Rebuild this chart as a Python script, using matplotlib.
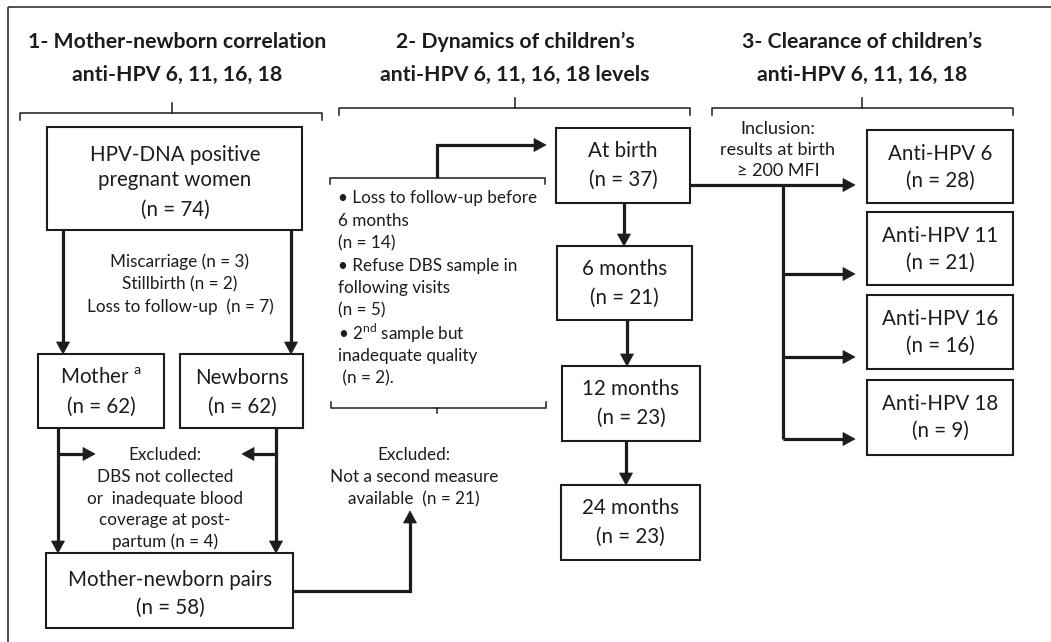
import matplotlib
matplotlib.use("Agg")
import matplotlib.pyplot as plt
from matplotlib.patches import Rectangle, Polygon

# ---------------- data ----------------
section_titles = [
    ["1- Mother-newborn correlation", "anti-HPV 6, 11, 16, 18"],
    ["2- Dynamics of children\u2019s", "anti-HPV 6, 11, 16, 18 levels"],
    ["3- Clearance of children\u2019s", "anti-HPV 6, 11, 16, 18"],
]
cohort_labels = ["HPV-DNA positive\npregnant women", "Mother $^{\\mathrm{a}}$", "Newborns", "Mother-newborn pairs"]
cohort_n = [74, 62, 62, 58]
pregnancy_loss_labels = ["Miscarriage", "Stillbirth", "Loss to follow-up "]
pregnancy_loss_n = [3, 2, 7]
postpartum_excluded_n = 4
visit_labels = ["At birth", "6 months", "12 months", "24 months"]
visit_n = [37, 21, 23, 23]
dropout_n = [14, 5, 2]
no_second_measure_n = 21
clearance_labels = ["Anti-HPV 6", "Anti-HPV 11", "Anti-HPV 16", "Anti-HPV 18"]
clearance_n = [28, 21, 16, 9]
inclusion_mfi = 200

# ---------------- style ----------------
FONT = ["Lato", "DejaVu Sans"]
plt.rcParams["font.family"] = FONT
plt.rcParams["mathtext.fontset"] = "custom"
plt.rcParams["mathtext.rm"] = "Lato"
TXT = "#1c1c1c"
LN = "#1c1c1c"
BOX_LW = 1.5
ARR_LW = 2.3
BR_LW = 1.1
BIG = 14.8
SMALL = 12.3
TITLE = 15.3

fig = plt.figure(figsize=(10.51, 6.42), dpi=100)
ax = fig.add_axes([0, 0, 1, 1])
ax.set_xlim(0, 1051)
ax.set_ylim(642, 0)
ax.axis("off")


def box(x0, y0, x1, y1):
    ax.add_patch(Rectangle((x0, y0), x1 - x0, y1 - y0, fill=False,
                           lw=BOX_LW, ec=LN, zorder=2))


def text(x, y, s, size=BIG, ha="center", weight="normal"):
    ax.text(x, y, s, fontsize=size, ha=ha, va="center", color=TXT,
            fontweight=weight, family=FONT)


def line(xs, ys, lw=ARR_LW):
    ax.plot(xs, ys, color=LN, lw=lw, solid_capstyle="butt",
            solid_joinstyle="miter", zorder=3)


def arrow(xs, ys, hl=12, hw=6.5):
    x1, y1 = xs[-1], ys[-1]
    x0, y0 = xs[-2], ys[-2]
    dx, dy = x1 - x0, y1 - y0
    d = (dx * dx + dy * dy) ** 0.5
    ux, uy = dx / d, dy / d
    bx, by = x1 - ux * hl, y1 - uy * hl
    line(list(xs[:-1]) + [bx + ux], list(ys[:-1]) + [by + uy])
    px, py = -uy, ux
    ax.add_patch(Polygon([(x1, y1), (bx + px * hw, by + py * hw),
                          (bx - px * hw, by - py * hw)], closed=True,
                         fc=LN, ec=LN, lw=0.5, zorder=4))


def bracket(x0, x1, y, cx, up=True, end=7, mid=10):
    s = -1 if up else 1
    ax.plot([x0, x0, x1, x1], [y - s * end, y, y, y - s * end],
            color=LN, lw=BR_LW, zorder=3)
    if mid:
        ax.plot([cx, cx], [y, y + s * mid], color=LN, lw=BR_LW, zorder=3)


# outer frame (runs past the right and bottom edges)
ax.add_patch(Rectangle((8, 7), 1100, 700, fill=False, lw=1.2, ec="#333333"))

# section titles and braces
title_x = [177, 515, 862]
for tx, (t1, t2) in zip(title_x, section_titles):
    text(tx, 42, t1, size=TITLE, weight="bold")
    text(tx, 75, t2, size=TITLE, weight="bold")
bracket(20, 322, 113, 172)
bracket(339, 690, 108, 515)
bracket(712, 1013, 108, 862)

# ---------- section 1 ----------
box(47, 127, 302, 230)
l0 = cohort_labels[0].split("\n")
text(175, 155, l0[0])
text(175, 180, l0[1])
text(175, 210, f"(n = {cohort_n[0]})")

arrow([63, 63], [230, 354])
arrow([291, 291], [230, 354])
for i, (lab, n) in enumerate(zip(pregnancy_loss_labels, pregnancy_loss_n)):
    text(180, 262 + 22.5 * i, f"{lab} (n = {n})", size=SMALL)

box(38, 354, 164, 428)
text(101, 378, cohort_labels[1])
text(101, 407, f"(n = {cohort_n[1]})")
box(180, 354, 303, 428)
text(242, 378, cohort_labels[2])
text(242, 407, f"(n = {cohort_n[2]})")

arrow([58, 58], [428, 553])
arrow([276, 276], [428, 553])
arrow([58, 95], [454, 454])
arrow([276, 242], [454, 454])
excl_lines = ["Excluded:", "DBS not collected", "or  inadequate blood",
              "coverage at post-", f"partum (n = {postpartum_excluded_n})"]
for i, s in enumerate(excl_lines):
    text(165, 455 + 21.8 * i, s, size=SMALL)

box(46, 553, 293, 628)
text(170, 580, cohort_labels[3])
text(170, 608, f"(n = {cohort_n[3]})")

arrow([293, 410, 410], [591, 591, 511])
for i, s in enumerate(["Excluded:", "Not a second measure",
                       f"available  (n = {no_second_measure_n})"]):
    text(414, 455 + 22 * i, s, size=SMALL)

# ---------- section 2 ----------
bracket(330, 545, 178, 437, up=True, end=6, mid=0)
arrow([437, 437, 546], [178, 145, 145])
bullets = [
    "\u2022 Loss to follow-up before", "6 months", f"(n = {dropout_n[0]})",
    "\u2022 Refuse DBS sample in", "following visits", f"(n = {dropout_n[1]})",
    "\u2022 2$^{\\mathrm{nd}}$ sample but", "inadequate quality", f" (n = {dropout_n[2]})."
]
for i, s in enumerate(bullets):
    text(338, 198 + 22.5 * i, s, size=SMALL, ha="left")
bracket(331, 546, 408, 437, up=False, end=6, mid=5)

visit_boxes = [(556, 128, 690, 203), (557, 246, 692, 320),
               (562, 366, 700, 441), (561, 485, 700, 560)]
for (x0, y0, x1, y1), lab, n in zip(visit_boxes, visit_labels, visit_n):
    box(x0, y0, x1, y1)
    cx = (x0 + x1) / 2
    text(cx, y0 + 23, lab)
    text(cx, y0 + 52, f"(n = {n})")
arrow([624, 624], [203, 246])
arrow([627, 627], [320, 366])
arrow([626, 626], [441, 485])

# ---------- section 3 ----------
for i, s in enumerate(["Inclusion:", "results at birth",
                       f"\u2265 {inclusion_mfi} MFI"]):
    text(778, 129 + 21 * i, s, size=13.0)
arrow([690, 855], [185, 185])
line([783, 783], [185, 439])
clear_boxes = [(867, 130, 1013, 203), (867, 212, 1013, 285),
               (867, 295, 1013, 369), (867, 380, 1013, 455)]
for (x0, y0, x1, y1), lab, n in zip(clear_boxes, clearance_labels, clearance_n):
    box(x0, y0, x1, y1)
    cx = (x0 + x1) / 2
    text(cx, y0 + 24, lab)
    text(cx, y0 + 51, f"(n = {n})")
for yy in [274, 357, 439]:
    arrow([783, 855], [yy, yy])

fig.savefig("out.png", dpi=100, facecolor="white")
